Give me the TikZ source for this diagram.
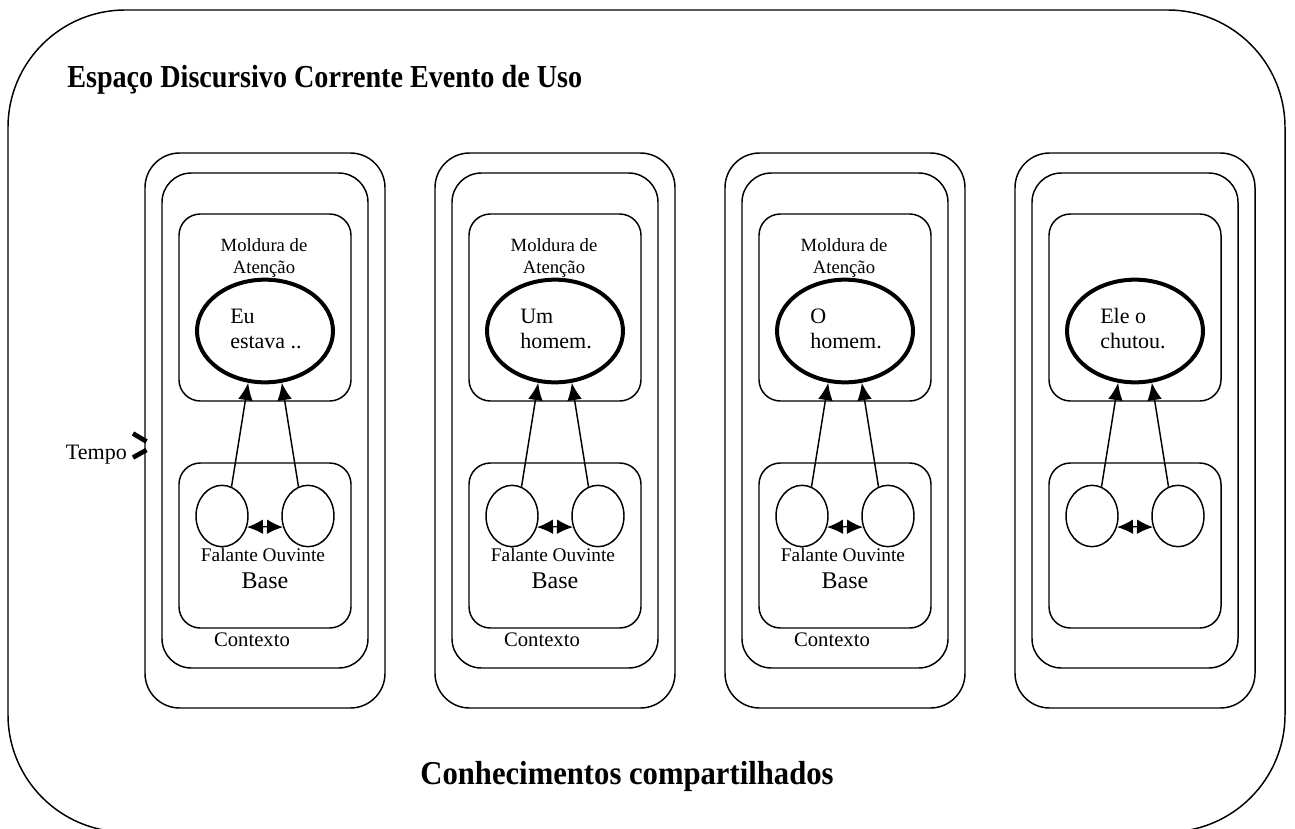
\documentclass[tikz,border=0pt]{standalone}
\usepackage{fontspec}
\usepackage{graphicx}
\setmainfont{Liberation Serif}
\usetikzlibrary{arrows.meta,shapes.geometric}
\begin{document}
\begin{tikzpicture}[x=0.75pt,y=-0.75pt,
  panelbox/.style={draw,line width=1.1pt,rounded corners=#1},
  focus/.style={ellipse,draw,line width=3pt,minimum width=102pt,minimum height=77pt,inner sep=0pt},
  person/.style={ellipse,draw,line width=1.1pt,minimum width=39pt,minimum height=46pt,inner sep=0pt},
  uparrow/.style={line width=1.1pt,-{Latex[length=13pt,width=11pt]}},
  sidearrow/.style={line width=1.1pt,-{Latex[length=12pt,width=11pt]}},
  focustxt/.style={anchor=west,align=left,inner sep=0pt,font=\fontsize{16.5}{18.75}\selectfont},
  smalltxt/.style={align=center,inner sep=0pt,font=\fontsize{14}{16}\selectfont},
  labeltxt/.style={anchor=base,inner sep=0pt,font=\fontsize{#1}{#1}\selectfont},
  titletxt/.style={inner sep=0pt,font=\bfseries\fontsize{#1}{#1}\selectfont},
  chevron/.style={line width=3.5pt}
]
\useasboundingbox (0,0) rectangle (1295,828);
\begin{scope}
  \clip (0,0) rectangle (1295,828);
  \draw[panelbox=88pt] (8,10) rectangle (1285,832);
\end{scope}

\node[titletxt=24,anchor=base west] (title) at (67,87) {\scalebox{0.88}[1]{Espaço Discursivo Corrente Evento de Uso}};
\node[titletxt=25,anchor=base] (shared) at (627,784) {\scalebox{0.92}[1]{Conhecimentos compartilhados}};

\node[labeltxt=16.5,anchor=base east] (tempo) at (127,459) {Tempo};
\draw[chevron] (133,433.5) -- (146.5,441.5);
\draw[chevron] (146.5,450) -- (133,457.5);

\foreach \i/\x/\ta/\tb in {1/145/Eu/estava ..,2/435/Um/homem.,3/725/O/homem.,4/1015/Ele o/chutou.}{
  \draw[panelbox=26pt] (\x,153) rectangle (\x+240,708);
  \draw[panelbox=22pt] (\x+17,173) rectangle (\x+223,668);
  \draw[panelbox=16pt] (\x+34,214) rectangle (\x+206,401);
  \draw[panelbox=16pt] (\x+34,463) rectangle (\x+206,628);
  \node[focus] (e\i) at (\x+120,331) {};
  \node[focustxt] (t\i) at (\x+85,329) {\ta\\\tb};
  \node[person] (f\i) at (\x+77,516) {};
  \node[person] (o\i) at (\x+163,516) {};
  \coordinate (m\i) at (\x+120,526.7);
  \draw[sidearrow] (m\i) -- (f\i.-24);
  \draw[sidearrow] (m\i) -- (o\i.204);
  \draw[uparrow] (f\i.72) -- (e\i.252);
  \draw[uparrow] (o\i.108) -- (e\i.288);
  \ifnum\i<4
    \node[smalltxt] (mold\i) at (\x+119,258) {Moldura de\\Atenção};
    \node[labeltxt=14.5] (fo\i) at (\x+118,561.7) {Falante Ouvinte};
    \node[labeltxt=18] (b\i) at (\x+120,588) {Base};
    \node[labeltxt=15.5] (c\i) at (\x+107,646) {Contexto};
  \fi
}
\end{tikzpicture}
\end{document}
